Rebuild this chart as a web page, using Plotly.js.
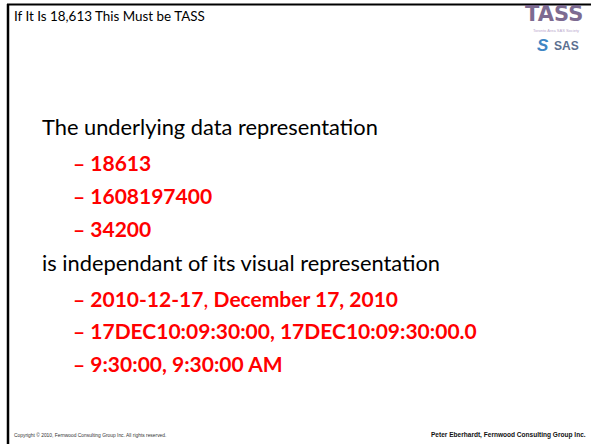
<!DOCTYPE html>
<html>
<head>
<meta charset="utf-8">
<script src="https://cdn.plot.ly/plotly-3.0.1.min.js"></script>
<style>html,body{margin:0;padding:0;background:#fff;overflow:hidden}#chart{width:591px;height:444px}</style>
</head>
<body>
<div id="chart"></div>
<script>
// ---- content ----
const slideTitle = "If It Is 18,613 This Must be TASS";
const heading1 = "The underlying data representation";
const values1 = ["18613", "1608197400", "34200"];
const heading2 = "is independant of its visual representation";
const values2 = [["2010-12-17", "December 17, 2010"], ["17DEC10:09:30:00", "17DEC10:09:30:00.0"], ["9:30:00", "9:30:00 AM"]];
const footerLeft = "Copyright \u00a9 2010, Fernwood Consulting Group Inc. All rights reserved.";
const footerRight = "Peter Eberhardt, Fernwood Consulting Group Inc.";
const logoTop = "TASS";
const logoSub = "Toronto Area SAS Society";
const logoBottom = "SAS";

// ---- helpers ----
const cv = document.createElement('canvas').getContext('2d');
function fitSize(text, family, weight, target) {
  cv.font = weight + " 100px " + family;
  const w = cv.measureText(text).width;
  return 100 * target / w;
}
const BODY = "Lato, 'Open Sans', sans-serif";
const ARIAL = "'Liberation Sans', Arial, sans-serif";
const s1 = fitSize(heading2, "Lato", "normal", 399);
const s2 = fitSize("\u2013 " + values2[1].join(", "), "Lato", "bold", 404);
const sT = fitSize(slideTitle, "Lato", "normal", 192);
const sFL = fitSize(footerLeft, "Liberation Sans", "normal", 153);
const sFR = fitSize(footerRight, "Liberation Sans", "bold", 155);

const ann = [];
function txt(x, y, text, size, color, family, xanchor, extra) {
  ann.push(Object.assign({x: x, y: y, xref: 'x', yref: 'y', text: text, showarrow: false,
    xanchor: xanchor || 'left', yanchor: 'middle',
    font: {size: size, color: color, family: family}}, extra || {}));
}
txt(12, 16, slideTitle, sT, '#000', BODY);
txt(40, 126, heading1, s1, '#000', BODY);
const y1 = [162, 195, 228];
values1.forEach((v, i) => txt(71, y1[i], "<b>\u2013 " + v + "</b>", s2, '#ff0000', BODY));
txt(40, 262, heading2, s1, '#000', BODY);
const y2 = [298, 330, 363];
values2.forEach((v, i) => {
  const t = i === 0 ? "<b>\u2013 " + v[0] + "</b>, <b>" + v[1] + "</b>"
                    : "<b>\u2013 " + v.join(", ") + "</b>";
  txt(71, y2[i], t, s2, '#ff0000', BODY);
});
txt(12, 435, footerLeft, sFL, '#333', ARIAL);
txt(588, 435, "<b>" + footerRight + "</b>", sFR, '#111', ARIAL, 'right');
// logo
txt(554, 14, "<b>" + logoTop + "</b>", 21, '#6f5c86', "'DejaVu Sans', sans-serif", 'center', {opacity: 0.9});
txt(556, 30, logoSub, 4, '#b9a8cc', ARIAL, 'center');
txt(543, 45, "<b><i>S</i></b>", 17, '#3f86c4', ARIAL, 'center');
txt(566, 46, "<b>" + logoBottom + "</b>", 12, '#5b6f8f', ARIAL, 'center');

const shapes = [
  {type: 'line', xref: 'x', yref: 'y', x0: 7, x1: 591, y0: 4.5, y1: 4.5, line: {color: '#000', width: 2}},
  {type: 'line', xref: 'x', yref: 'y', x0: 8, x1: 8, y0: 4, y1: 444, line: {color: '#000', width: 2.5}}
];

const layout = {
  width: 591, height: 444,
  margin: {l: 0, r: 0, t: 0, b: 0},
  paper_bgcolor: '#fff', plot_bgcolor: '#fff',
  xaxis: {range: [0, 591], visible: false, fixedrange: true},
  yaxis: {range: [444, 0], visible: false, fixedrange: true},
  showlegend: false,
  annotations: ann, shapes: shapes
};
Plotly.newPlot('chart', [{x: [], y: [], type: 'scatter'}], layout, {staticPlot: true, displayModeBar: false});
</script>
</body>
</html>
